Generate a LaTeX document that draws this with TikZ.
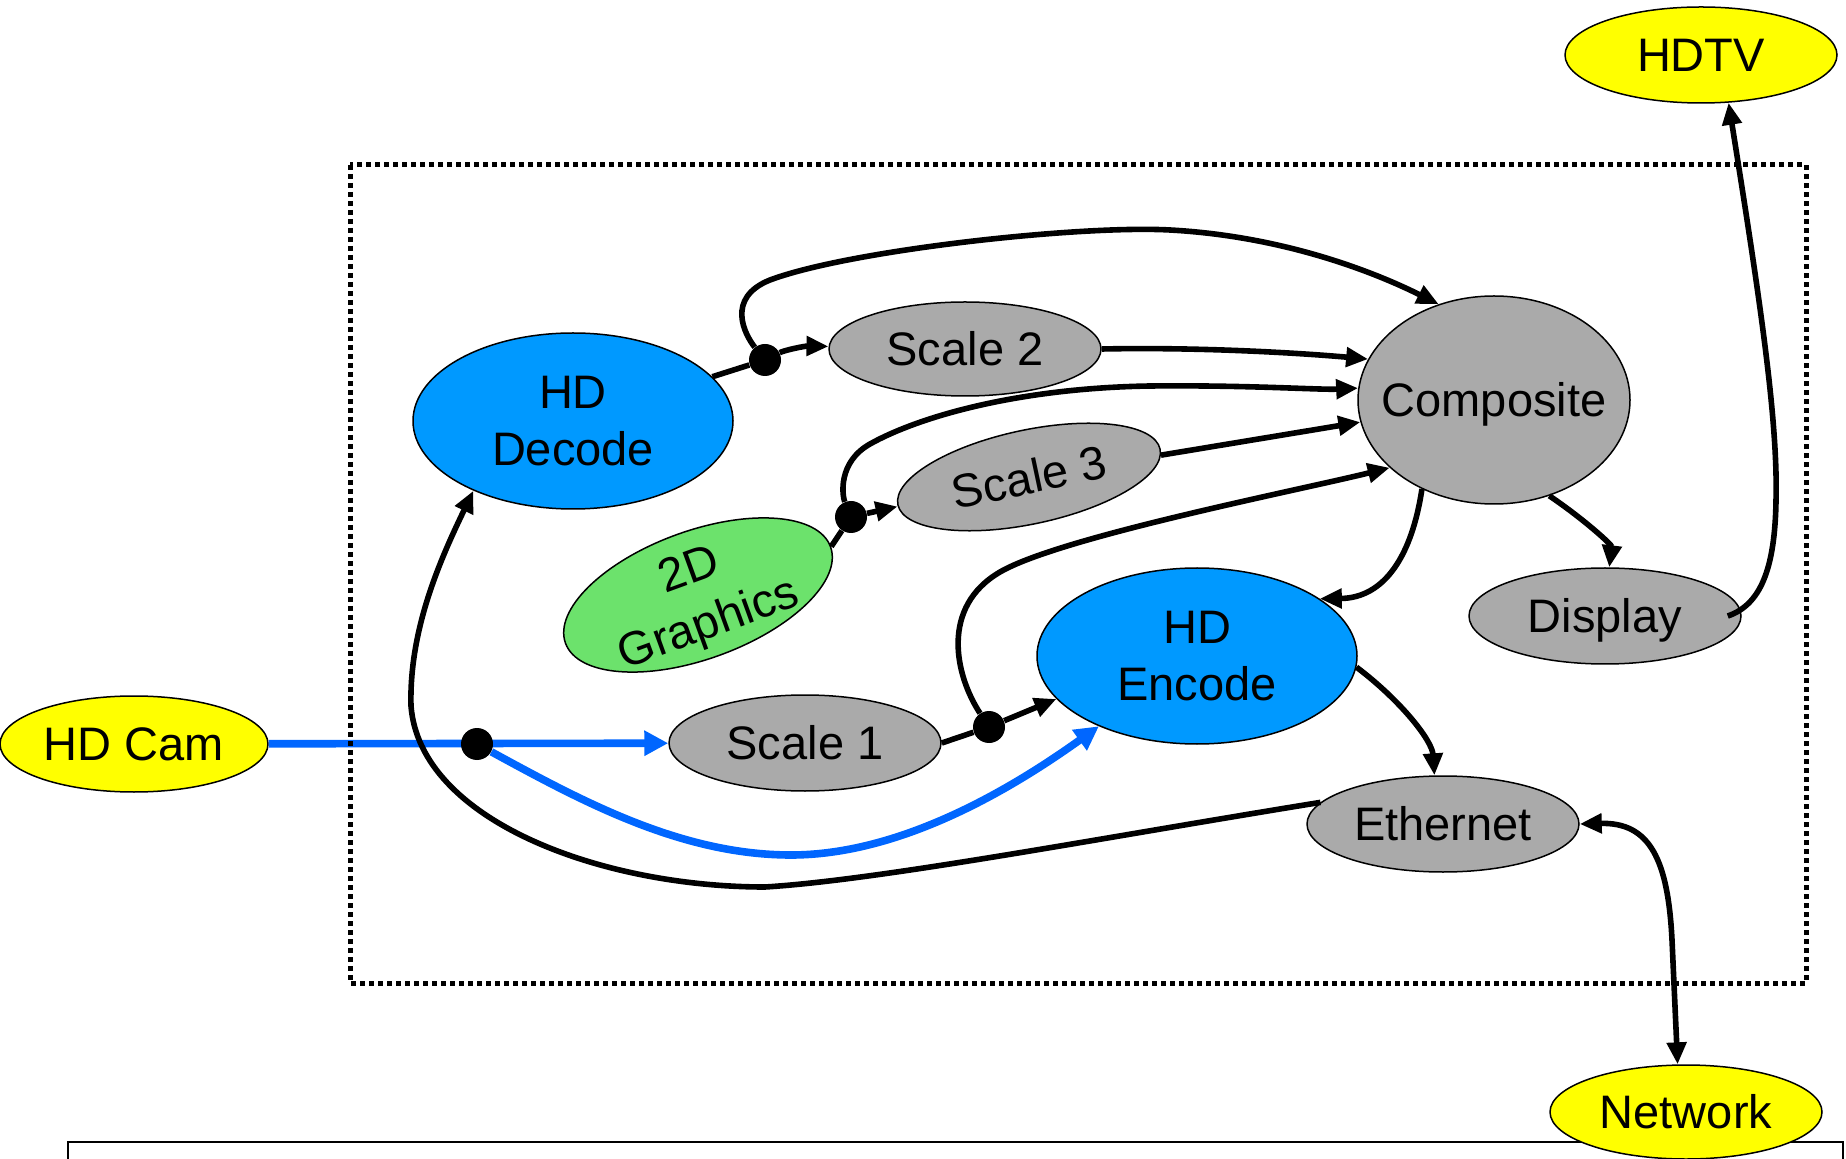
\documentclass[tikz,border=0pt]{standalone}
\usepackage{fontspec}
\setmainfont{Liberation Sans}
\usetikzlibrary{arrows.meta,shapes.geometric,calc}

\definecolor{ioyellow}{RGB}{255,255,0}
\definecolor{codecblue}{RGB}{0,153,255}
\definecolor{stagegrey}{RGB}{170,170,170}
\definecolor{gfxgreen}{RGB}{108,226,108}
\definecolor{flowblue}{RGB}{0,102,255}

\pgfdeclarelayer{front}
\pgfsetlayers{main,front}

% zero-size labels, centred on the cap height, so the ellipse size
% comes from minimum width/height only
\newcommand\lbl[1]{\makebox[0pt]{\smash{\raisebox{-0.358em}{#1}}}}
\newcommand\lbltwo[2]{\makebox[0pt]{\smash{\raisebox{-8.6pt}{\begin{tabular}{@{}c@{}}#1\\#2\end{tabular}}}}}

\begin{document}
\begin{tikzpicture}[x=0.5pt,y=-0.5pt,
  blob/.style={ellipse,draw=black,line width=0.75pt,inner sep=0pt,
               font=\fontsize{23.5}{28.5}\selectfont},
  ionode/.style={blob,fill=ioyellow},
  codec/.style={blob,fill=codecblue},
  stage/.style={blob,fill=stagegrey},
  gfx/.style={blob,fill=gfxgreen},
  junction/.style={circle,fill=black,inner sep=0pt,minimum size=16pt},
  link/.style={line width=2.8pt,black},
  arrowed/.style={-{Triangle[length=11pt,width=9.5pt]}},
  bothways/.style={{Triangle[length=11pt,width=9.5pt]}-{Triangle[length=11pt,width=9.5pt]}},
  bluelink/.style={line width=3.8pt,flowblue},
  bluearrowed/.style={-{Triangle[length=12pt,width=12pt]}},
]
\path[use as bounding box] (0,0) rectangle (1846,1159);
\begin{scope}
\clip (0,0) rectangle (1846,1159);

% frame at the foot of the page
\draw[line width=0.75pt,fill=white] (68,1142) rectangle (1843,1220);

% external devices
\node[ionode,minimum width=136pt,minimum height=48pt] (hdtv) at (1701,55) {\lbl{HDTV}};
\node[ionode,minimum width=134pt,minimum height=48pt] (cam) at (134,744) {\lbl{HD Cam}};
\node[ionode,minimum width=136pt,minimum height=47pt] (net) at (1686,1112) {\lbl{Network}};

% processing blocks
\node[codec,minimum width=160pt,minimum height=88pt] (dec) at (573,421) {\lbltwo{HD}{Decode}};
\node[codec,minimum width=160pt,minimum height=88pt] (enc) at (1197,656) {\lbltwo{HD}{Encode}};
\node[stage,minimum width=136pt,minimum height=47pt] (s2) at (965,349) {\lbl{Scale 2}};
\node[stage,minimum width=134pt,minimum height=47pt,rotate=12] (s3) at (1029,477) {\lbl{Scale 3}};
\node[stage,minimum width=136pt,minimum height=48pt] (s1) at (805,743) {\lbl{Scale 1}};
\node[stage,minimum width=136pt,minimum height=104pt] (comp) at (1494,400) {\lbl{Composite}};
\node[stage,minimum width=136pt,minimum height=48pt] (disp) at (1605,616) {\lbl{Display}};
\node[stage,minimum width=136pt,minimum height=48pt] (eth) at (1443,824) {\lbl{Ethernet}};
\node[gfx,minimum width=141pt,minimum height=64pt,rotate=20] (g2d) at (698,595) {\lbltwo{2D}{Graphics}};

% fan-out junctions
\begin{pgfonlayer}{front}
\node[junction] (d1) at (765,360) {};
\node[junction] (d2) at (851,517) {};
\node[junction] (d3) at (989,727) {};
\node[junction] (d4) at (477,744) {};
\end{pgfonlayer}

% camera feed
\draw[bluelink,bluearrowed] (cam) -- (s1);
\draw[bluelink,bluearrowed] (d4) .. controls (580,800) and (680,855) .. (791,855)
      .. controls (900,855) and (1010,790) .. (enc);

% decoder branch
\draw[link] (dec) -- (d1);
\draw[link,arrowed] (d1) .. controls (785,350) and (805,346) .. (s2);
\draw[link,arrowed] (d1) .. controls (745,335) and (725,298) .. (770,280)
      .. controls (850,250) and (1080,225) .. (1170,230)
      .. controls (1280,236) and (1370,270) .. (comp.120);
\draw[link,arrowed] (s2.east) .. controls (1200,347) and (1300,353) .. (comp.162);

% graphics branch
\draw[link] (g2d.east) -- (d2);
\draw[link,arrowed] (d2) -- (s3);
\draw[link,arrowed] (d2) .. controls (842,495) and (838,462) .. (870,444)
      .. controls (920,416) and (1020,388) .. (1150,386)
      .. controls (1250,385) and (1320,390) .. (comp.175);
\draw[link,arrowed] (s3) -- (comp);

% camera scaler branch
\draw[link] (s1.east) -- (d3);
\draw[link,arrowed] (d3) -- (enc.197);
\draw[link,arrowed] (d3) .. controls (955,675) and (940,607) .. (1000,572)
      .. controls (1060,537) and (1300,490) .. (comp.213);

% compositor outputs
\draw[link,arrowed] (comp.231) .. controls (1412,555) and (1385,598) .. (enc.25);
\draw[link,arrowed] (comp.300) .. controls (1585,520) and (1612,545) .. (disp.85);
\draw[link,arrowed] (enc.356) .. controls (1400,700) and (1432,740) .. (eth.100);
\draw[link,arrowed] ([xshift=-7pt]disp.east) .. controls (1760,605) and (1775,570) .. (1776,500)
      .. controls (1778,420) and (1760,300) .. (hdtv.300);

% network return path
\draw[link,arrowed] (eth.170) .. controls (1100,838) and (880,880) .. (765,887)
      .. controls (600,887) and (420,820) .. (411,706)
      .. controls (409,630) and (440,560) .. (dec.215);
\draw[link,bothways] (eth.east) .. controls (1650,822) and (1668,860) .. (1672,940) -- (net.100);

% system boundary
\draw[line width=2.5pt,dash pattern=on 2.5pt off 2pt] (350,165) rectangle (1806,983);
\end{scope}
\end{tikzpicture}
\end{document}
